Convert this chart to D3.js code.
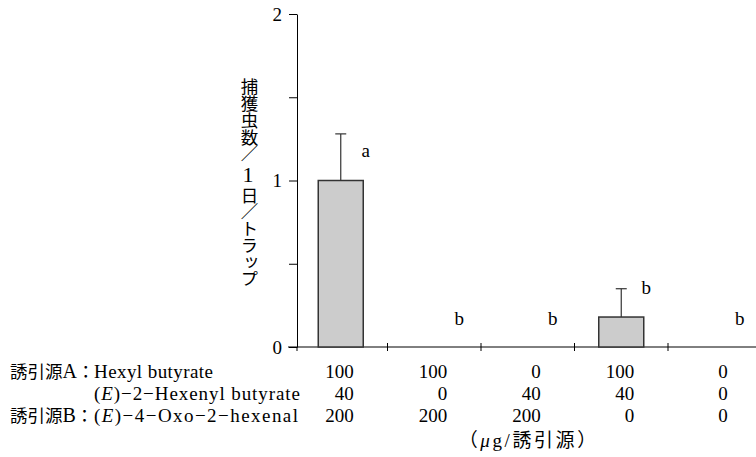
<!DOCTYPE html>
<html><head><meta charset="utf-8">
<script src="https://cdn.jsdelivr.net/npm/d3@7"></script>
<style>body{margin:0;background:#fff} svg{display:block}</style>
</head><body>
<svg id="c" width="756" height="457"></svg>
<script>
// ---- data ----
const categories = ["T1","T2","T3","T4","T5"];
const hexylButyrate = [100, 100, 0, 100, 0];      // 誘引源A: Hexyl butyrate (μg)
const hexenylButyrate = [40, 0, 40, 40, 0];       // (E)-2-Hexenyl butyrate (μg)
const oxoHexenal = [200, 200, 200, 0, 0];         // 誘引源B: (E)-4-Oxo-2-hexenal (μg)
const means = [1.0, 0, 0, 0.18, 0];
const errors = [0.28, 0, 0, 0.17, 0];
const letters = ["a", "b", "b", "b", "b"];
const letterValues = [1.14, 0.13, 0.13, 0.32, 0.13];
const yTicks = [0, 0.5, 1, 1.5, 2];
const yTickLabels = ["0", "", "1", "", "2"];
const yTitleParts = ["捕獲虫数／", "1", "日／トラップ"];
const rowLabels = ["Hexyl butyrate", "(E)−2−Hexenyl butyrate", "(E)−4−Oxo−2−hexenal"];
const rowPrefixes = [["誘引源", "A", "："], null, ["誘引源", "B", "："]];
const unitParts = ["（", "μ", "g/誘引源）"];

// ---- chart ----
const svg = d3.select("#c");
const serif = '"Liberation Serif","Times New Roman","Noto Sans CJK JP",serif';
const x = d3.scaleBand().domain(categories).range([294, 761.5]).padding(0);
const y = d3.scaleLinear().domain([0, 2]).range([347, 14]);
const cx = c => x(c) + x.bandwidth() / 2;
const barW = 45;
const axisX = 297;
const fs = 19;

// y axis
const yAxis = d3.axisLeft(y).tickValues(yTicks).tickSize(8).tickSizeOuter(0).tickPadding(7)
  .tickFormat((d, i) => yTickLabels[i]);
const gy = svg.append("g").attr("transform", `translate(${axisX},0)`).call(yAxis);
gy.select(".domain").attr("stroke", "#000").attr("stroke-width", 1);
gy.selectAll(".tick line").attr("stroke", "#000");
gy.selectAll(".tick text").attr("font-family", serif).attr("font-size", fs).attr("fill", "#000");
svg.append("line").attr("x1", axisX).attr("x2", axisX).attr("y1", y(0)).attr("y2", y(0) + 4)
  .attr("stroke", "#000");

// x axis line and category boundary ticks
svg.append("line").attr("x1", axisX - 9).attr("x2", 756).attr("y1", y(0)).attr("y2", y(0))
  .attr("stroke", "#000").attr("stroke-width", 1);
svg.selectAll(".bt").data(categories.slice(1)).join("line").attr("class", "bt")
  .attr("x1", d => x(d)).attr("x2", d => x(d))
  .attr("y1", y(0) - 4).attr("y2", y(0) + 4).attr("stroke", "#000");

// bars
const data = categories.map((c, i) => ({c, m: means[i], e: errors[i], l: letters[i], lv: letterValues[i]}));
svg.selectAll(".bar").data(data.filter(d => d.m > 0)).join("rect").attr("class", "bar")
  .attr("x", d => cx(d.c) - barW / 2).attr("width", barW)
  .attr("y", d => y(d.m)).attr("height", d => y(0) - y(d.m))
  .attr("fill", "#cccccc").attr("stroke", "#333").attr("stroke-width", 1.5);

// error bars
const eb = svg.selectAll(".eb").data(data.filter(d => d.e > 0)).join("g").attr("class", "eb");
eb.append("line").attr("x1", d => cx(d.c)).attr("x2", d => cx(d.c))
  .attr("y1", d => y(d.m)).attr("y2", d => y(d.m + d.e)).attr("stroke", "#333").attr("stroke-width", 1.2);
eb.append("line").attr("x1", d => cx(d.c) - 5.5).attr("x2", d => cx(d.c) + 5.5)
  .attr("y1", d => y(d.m + d.e)).attr("y2", d => y(d.m + d.e)).attr("stroke", "#333").attr("stroke-width", 1.2);

// significance letters
svg.selectAll(".lt").data(data).join("text").attr("class", "lt")
  .attr("x", d => cx(d.c) + 25).attr("y", d => y(d.lv))
  .attr("text-anchor", "middle").attr("font-family", serif).attr("font-size", fs)
  .text(d => d.l);

// y title (vertical)
const yt = svg.append("text").attr("x", 248).attr("y", 78)
  .attr("font-family", serif).attr("font-size", 17.5)
  .style("writing-mode", "vertical-rl").style("text-orientation", "upright")
  .attr("dominant-baseline", "central")
  .attr("textLength", 209).attr("lengthAdjust", "spacing");
yTitleParts.forEach((p, i) => {
  const ts = yt.append("tspan").text(p);
  if (i === 1) ts.attr("font-size", 22);
});

// table rows
const rows = [hexylButyrate, hexenylButyrate, oxoHexenal];
const rowY = [378, 400, 422];
const rowWidths = [119, 206, 204];
rows.forEach((vals, r) => {
  svg.selectAll(".r" + r).data(categories).join("text").attr("class", "r" + r)
    .attr("x", c => cx(c) + 13).attr("y", rowY[r])
    .attr("text-anchor", "end").attr("font-family", serif).attr("font-size", fs)
    .text((c, i) => vals[i]);
  if (rowPrefixes[r]) {
    const pt = svg.append("text").attr("x", 10).attr("y", rowY[r]).attr("font-family", serif)
      .attr("font-size", 17.5);
    rowPrefixes[r].forEach((p, i) => {
      const ts = pt.append("tspan").text(p);
      if (i === 1) ts.attr("font-size", 20);
    });
  }
  const t = svg.append("text").attr("x", 94).attr("y", rowY[r]).attr("font-family", serif)
    .attr("font-size", fs).attr("textLength", rowWidths[r]).attr("lengthAdjust", "spacing");
  const parts = rowLabels[r].split(/(E)/);
  parts.forEach(p => {
    if (!p) return;
    const ts = t.append("tspan").text(p);
    if (p === "E") ts.attr("font-style", "italic");
  });
});

// unit label
const u = svg.append("text").attr("x", cx(categories[2]) + 1).attr("y", 447)
  .attr("text-anchor", "middle").attr("font-family", serif).attr("font-size", fs)
  .attr("letter-spacing", 2.6);
unitParts.forEach((p, i) => {
  const ts = u.append("tspan").text(p);
  if (i === 1) ts.attr("font-style", "italic");
});
</script>
</body></html>
